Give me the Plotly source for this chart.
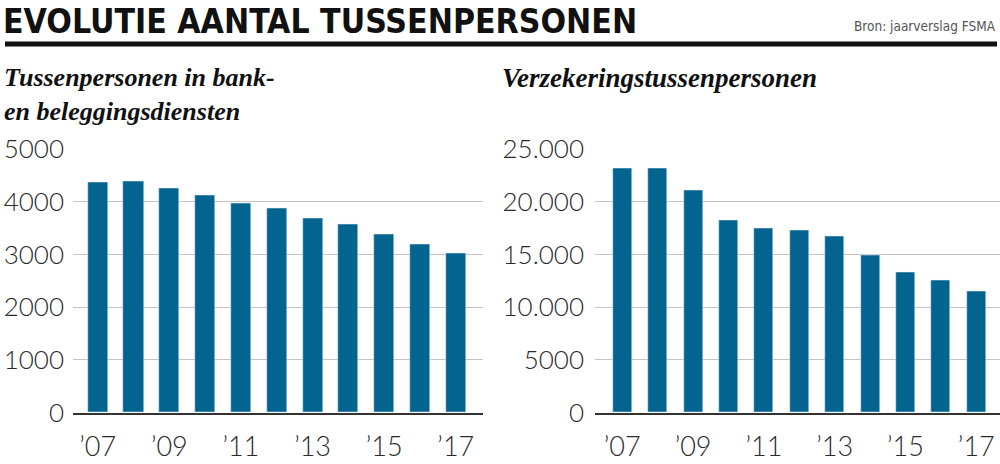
import plotly.graph_objects as go

years = list(range(2007, 2018))
tick_years = [2007, 2009, 2011, 2013, 2015, 2017]
tick_labels = ["’07", "’09", "’11", "’13", "’15", "’17"]

bank_values = [4370, 4390, 4260, 4120, 3975, 3885, 3695, 3580, 3385, 3195, 3015]
insurance_values = [23150, 23150, 21100, 18250, 17470, 17310, 16710, 14910, 13350, 12560, 11520]

left_yticks = [0, 1000, 2000, 3000, 4000, 5000]
left_yticktext = ["0", "1000", "2000", "3000", "4000", "5000"]
right_yticks = [0, 5000, 10000, 15000, 20000, 25000]
right_yticktext = ["0", "5000", "10.000", "15.000", "20.000", "25.000"]

title = "EVOLUTIE AANTAL TUSSENPERSONEN"
source = "Bron: jaarverslag FSMA"
left_subtitle = "Tussenpersonen in bank-<br>en beleggingsdiensten"
right_subtitle = "Verzekeringstussenpersonen"

BAR = "#03648f"
W, H = 1000, 464
LEFT_MAX, RIGHT_MAX = 5000, 25000


def px_x(p):
    return p / W


def px_y(p):
    return (H - p) / H


fig = go.Figure()

fig.add_trace(go.Bar(x=years, y=bank_values, marker_color=BAR, width=0.56,
                     xaxis="x", yaxis="y", showlegend=False, hoverinfo="x+y"))
fig.add_trace(go.Bar(x=years, y=insurance_values, marker_color=BAR, width=0.54,
                     xaxis="x2", yaxis="y2", showlegend=False, hoverinfo="x+y"))

# small carets under the labelled years (placed ~15px below the baseline)
caret_offset = -15.5 / 263.2
fig.add_trace(go.Scatter(x=tick_years, y=[caret_offset * LEFT_MAX] * len(tick_years), mode="markers",
                         marker=dict(symbol="triangle-up", size=6, color="#222", line=dict(width=0)),
                         xaxis="x", yaxis="y", cliponaxis=False, showlegend=False, hoverinfo="skip"))
fig.add_trace(go.Scatter(x=tick_years, y=[caret_offset * RIGHT_MAX] * len(tick_years), mode="markers",
                         marker=dict(symbol="triangle-up", size=6, color="#222", line=dict(width=0)),
                         xaxis="x2", yaxis="y2", cliponaxis=False, showlegend=False, hoverinfo="skip"))

tickfont_y = dict(family="Lato", size=26, color="#2a2a2a", weight=300)
tickfont_x = dict(family="Lato", size=27, color="#2a2a2a", weight=300)

ydom = [px_y(412.5), px_y(149.3)]

common_x = dict(showgrid=False, zeroline=False, showline=True, linecolor="#333", linewidth=1.5,
                ticks="", tickvals=tick_years, ticktext=tick_labels, tickfont=tickfont_x,
                ticklabelstandoff=9, fixedrange=True, automargin=False)
common_y = dict(showgrid=True, gridcolor="#c4c4c4", gridwidth=1, zeroline=False, showline=False,
                ticks="", tickfont=tickfont_y, fixedrange=True, automargin=False)

annotations = [
    dict(text=title, xref="paper", yref="paper", x=px_x(1), y=px_y(0), xanchor="left",
         yanchor="top", showarrow=False,
         font=dict(family="DejaVu Sans Condensed, Roboto", size=33.5, color="#111", weight="bold")),
    dict(text=source, xref="paper", yref="paper", x=px_x(998), y=px_y(16), xanchor="right",
         yanchor="top", showarrow=False,
         font=dict(family="DejaVu Sans Condensed, Roboto", size=13.5, color="#555")),
    dict(text=left_subtitle, xref="paper", yref="paper", x=px_x(2), y=px_y(61), xanchor="left",
         yanchor="top", showarrow=False, align="left",
         font=dict(family="Liberation Serif", size=26, color="#111", weight="bold", style="italic")),
    dict(text=right_subtitle, xref="paper", yref="paper", x=px_x(500), y=px_y(61), xanchor="left",
         yanchor="top", showarrow=False, align="left",
         font=dict(family="Liberation Serif", size=27, color="#111", weight="bold", style="italic")),
]

fig.update_layout(
    width=W, height=H,
    margin=dict(l=0, r=0, t=0, b=0, autoexpand=False),
    paper_bgcolor="white", plot_bgcolor="white",
    bargap=0,
    xaxis=dict(domain=[px_x(73), px_x(483)], range=[2006.31, 2017.76], anchor="y", **common_x),
    yaxis=dict(domain=ydom, range=[0, LEFT_MAX], anchor="x", tickvals=left_yticks,
               ticktext=left_yticktext, ticklabelstandoff=8, **common_y),
    xaxis2=dict(domain=[px_x(595), 1.0], range=[2006.23, 2017.67], anchor="y2", **common_x),
    yaxis2=dict(domain=ydom, range=[0, RIGHT_MAX], anchor="x2", tickvals=right_yticks,
                ticktext=right_yticktext, ticklabelstandoff=10, **common_y),
    shapes=[dict(type="line", xref="paper", yref="paper", x0=px_x(5), x1=px_x(997),
                 y0=px_y(44), y1=px_y(44), line=dict(color="#111", width=5))],
    annotations=annotations,
)

fig.write_html("out.html", config={"displayModeBar": False},
               post_script="document.body.style.margin='0';document.body.style.overflow='hidden';")
